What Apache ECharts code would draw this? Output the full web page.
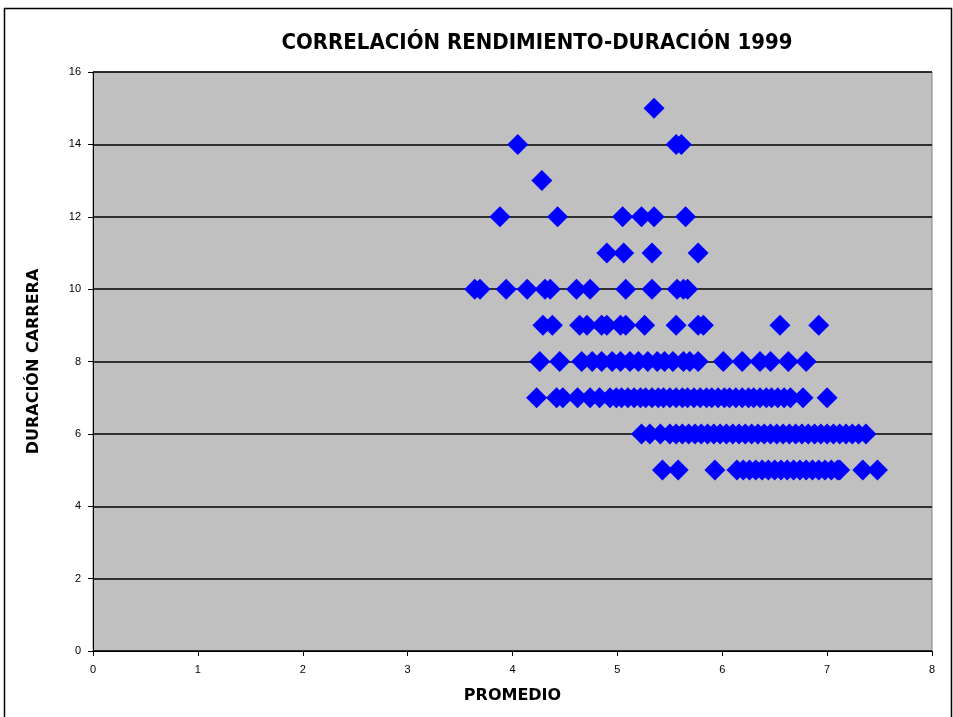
<!DOCTYPE html>
<html>
<head>
<meta charset="utf-8">
<script src="https://cdn.jsdelivr.net/npm/echarts@6/dist/echarts.min.js"></script>
<style>
  html, body { margin: 0; padding: 0; background: #fff; }
  #chart { width: 953px; height: 717px; }
</style>
</head>
<body>
<div id="chart"></div>
<script>
// duración de la carrera (años) -> promedios
const dur15 = [5.35]
const dur14 = [4.05, 5.56, 5.61]
const dur13 = [4.28]
const dur12 = [3.88, 4.43, 5.05, 5.23, 5.35, 5.65]
const dur11 = [4.90, 5.06, 5.33, 5.77]
const dur10 = [3.64, 3.69, 3.94, 4.14, 4.31, 4.36, 4.61, 4.74, 5.08, 5.33, 5.57, 5.63, 5.67]
const dur9 = [4.29, 4.38, 4.64, 4.71, 4.85, 4.90, 5.03, 5.08, 5.26, 5.56, 5.77, 5.82, 6.55, 6.92]
const dur8 = [4.26, 4.45, 4.66, 4.76, 4.85, 4.95, 5.03, 5.12, 5.20, 5.29, 5.38, 5.45, 5.53,
  5.63, 5.69, 5.77, 6.01, 6.19, 6.36, 6.46, 6.63, 6.80]
const dur7 = [4.23, 4.42, 4.48, 4.62, 4.74, 4.83, 4.93, 4.99, 5.04, 5.10, 5.16, 5.22, 5.27,
  5.33, 5.39, 5.44, 5.50, 5.56, 5.62, 5.67, 5.73, 5.79, 5.85, 5.90, 5.96, 6.02, 6.07, 6.13,
  6.19, 6.25, 6.30, 6.36, 6.42, 6.47, 6.53, 6.59, 6.65, 6.77, 7.00]
const dur6 = [5.23, 5.31, 5.41, 5.50, 5.56, 5.62, 5.68, 5.74, 5.80, 5.86, 5.92, 5.98, 6.04,
  6.10, 6.16, 6.22, 6.28, 6.34, 6.40, 6.46, 6.52, 6.58, 6.64, 6.70, 6.76, 6.82, 6.88, 6.94,
  7.00, 7.06, 7.12, 7.18, 7.24, 7.30, 7.37]
const dur5 = [5.43, 5.58, 5.93, 6.14, 6.20, 6.26, 6.32, 6.38, 6.44, 6.50, 6.56, 6.62, 6.68,
  6.74, 6.80, 6.86, 6.92, 6.98, 7.04, 7.10, 7.12, 7.34, 7.48]

const rows = [
  [15, dur15], [14, dur14], [13, dur13], [12, dur12], [11, dur11], [10, dur10],
  [9, dur9], [8, dur8], [7, dur7], [6, dur6], [5, dur5],
]
// pares [promedio, duración]
const points = []
rows.forEach(([d, arr]) => arr.forEach(p => points.push([p, d])))

const chart = echarts.init(document.getElementById('chart'))
chart.setOption({
  animation: false,
  title: {
    text: 'CORRELACIÓN RENDIMIENTO-DURACIÓN 1999',
    left: 532,
    textAlign: 'center',
    top: 27,
    textStyle: {
      fontFamily: 'DejaVu Sans Condensed',
      fontSize: 22,
      fontWeight: 'bold',
      color: '#000',
    },
  },
  // marco exterior
  graphic: [{
    type: 'rect',
    shape: { x: 4.5, y: 8.5, width: 947, height: 720 },
    style: { fill: 'none', stroke: '#000', lineWidth: 1.5 },
    silent: true,
  }],
  grid: {
    left: 93,
    right: 21,
    top: 72,
    bottom: 66,
    show: true,
    backgroundColor: '#c0c0c0',
    borderColor: '#808080',
    borderWidth: 1,
  },
  xAxis: {
    type: 'value',
    min: 0,
    max: 8,
    interval: 1,
    name: 'PROMEDIO',
    nameLocation: 'middle',
    nameGap: 37,
    nameTextStyle: { fontFamily: 'DejaVu Sans', fontWeight: 'bold', fontSize: 16, color: '#000' },
    axisLine: { lineStyle: { color: '#000', width: 1 } },
    axisTick: { inside: false, length: 5, lineStyle: { color: '#000' } },
    axisLabel: { margin: 13, fontFamily: 'Liberation Sans', fontSize: 11, color: '#000' },
    splitLine: { show: false },
  },
  yAxis: {
    type: 'value',
    min: 0,
    max: 16,
    interval: 2,
    name: 'DURACIÓN CARRERA',
    nameLocation: 'middle',
    nameRotate: 90,
    nameGap: 51,
    nameTextStyle: { fontFamily: 'DejaVu Sans', fontWeight: 'bold', fontSize: 16, color: '#000' },
    axisLine: { show: true, lineStyle: { color: '#000', width: 1 } },
    axisTick: { show: true, inside: false, length: 5, lineStyle: { color: '#000' } },
    axisLabel: { margin: 12, fontFamily: 'Liberation Sans', fontSize: 11, color: '#000' },
    splitLine: { show: true, lineStyle: { color: '#000', width: 1.5 } },
  },
  series: [{
    type: 'scatter',
    data: points,
    symbol: 'diamond',
    symbolSize: 21,
    itemStyle: { color: '#0000ff', opacity: 1 },
  }],
})
</script>
</body>
</html>
